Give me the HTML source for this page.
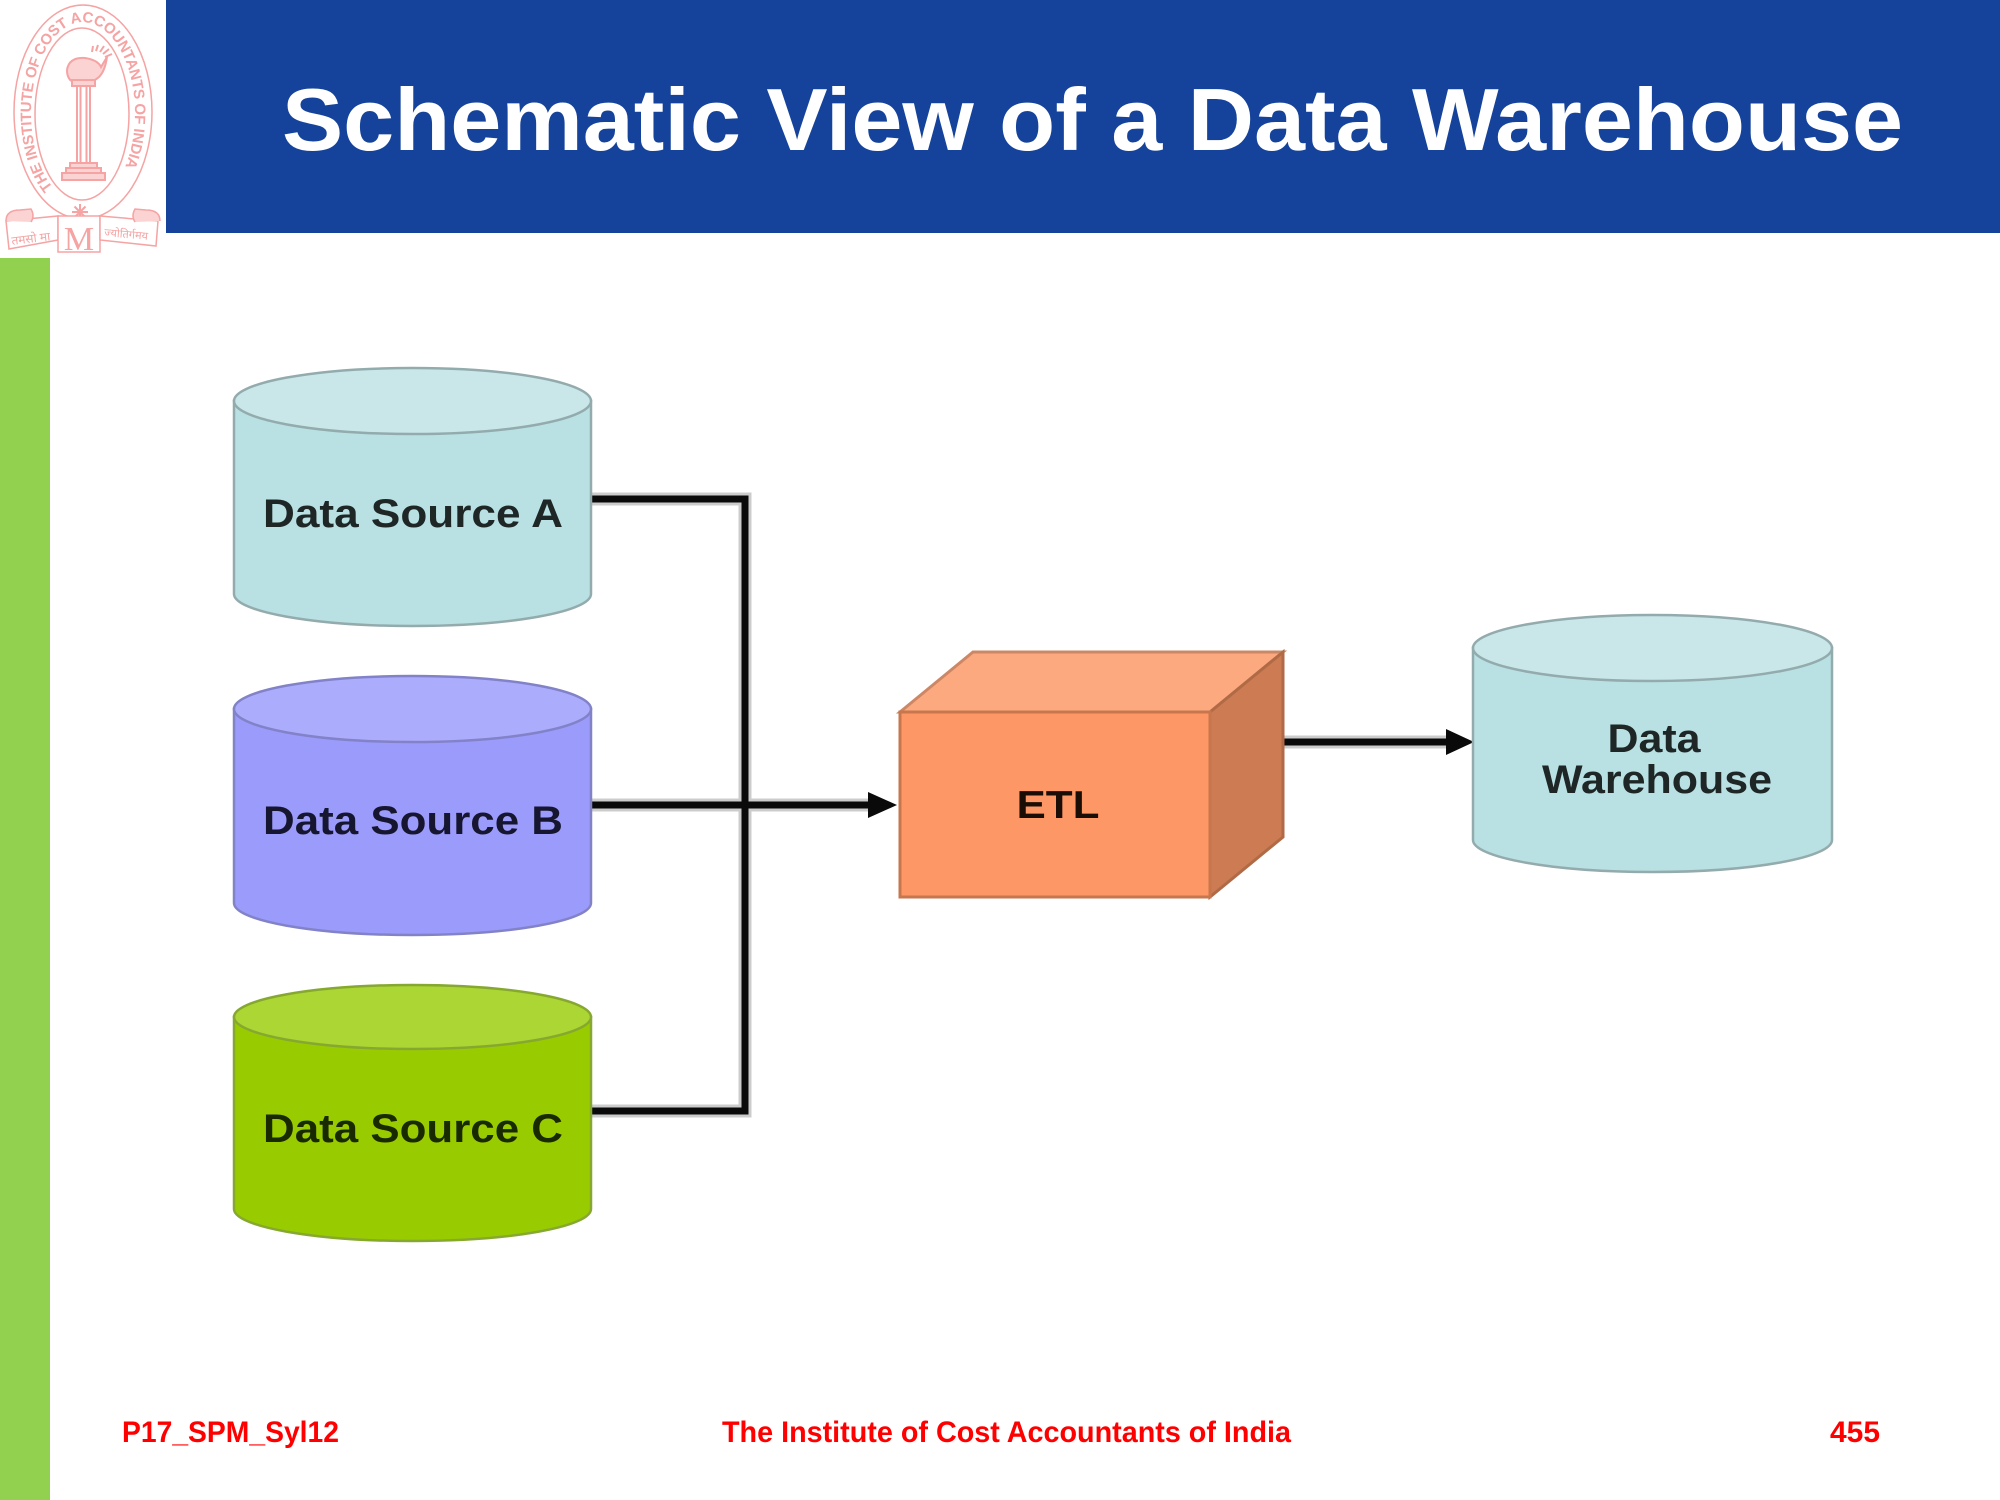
<!DOCTYPE html>
<html>
<head>
<meta charset="utf-8">
<style>
html,body{margin:0;padding:0;background:#fff;}
svg{display:block;}
</style>
</head>
<body>
<svg width="2000" height="1500" viewBox="0 0 2000 1500" xmlns="http://www.w3.org/2000/svg">
<rect width="2000" height="1500" fill="#ffffff"/>

<!-- Header -->
<rect x="166" y="0" width="1834" height="233" fill="#15439B"/>
<text x="282" y="150" font-family="'Liberation Sans', sans-serif" font-weight="bold" font-size="88" fill="#ffffff" textLength="1621" lengthAdjust="spacingAndGlyphs">Schematic View of a Data Warehouse</text>

<!-- Green side bar -->
<rect x="0" y="258" width="50" height="1242" fill="#92D050"/>

<!-- Logo -->
<defs>
  <path id="ring" d="M 53,187.5 A 52,91 0 1 1 113,187.5"/>
</defs>
<g fill="none" stroke="#F5A3A3" stroke-width="1.5">
  <ellipse cx="83" cy="112" rx="69" ry="107"/>
  <ellipse cx="82" cy="114" rx="47" ry="86"/>
</g>
<text font-family="'Liberation Sans', sans-serif" font-weight="bold" font-size="15" fill="#F5A3A3">
  <textPath href="#ring" textLength="362" lengthAdjust="spacing">THE INSTITUTE OF COST ACCOUNTANTS OF INDIA</textPath>
</text>
<g stroke="#F5A3A3" stroke-width="2" fill="none">
  <!-- lamp -->
  <path d="M67,70 Q69,57 85,58 Q98,60 101,67 L107,57 Q105,71 99,77 Q90,85 76,83 Q67,81 67,70 Z" fill="#FBD3D3"/>
  <path d="M96,51 L98,45 M100,52 L104,46 M103,54 L109,49 M105,57 L112,54 M92,52 L93,46"/>
  <!-- column -->
  <rect x="72" y="80" width="23" height="6" fill="#FBD3D3"/>
  <rect x="77" y="86" width="13" height="79"/>
  <line x1="80.5" y1="86" x2="80.5" y2="165"/>
  <line x1="86.5" y1="86" x2="86.5" y2="165"/>
  <!-- base -->
  <rect x="70" y="163" width="27" height="5" fill="#FBD3D3"/>
  <rect x="66" y="168" width="35" height="5" fill="#FBD3D3"/>
  <rect x="62" y="173" width="43" height="7" fill="#FBD3D3"/>
  <!-- star -->
  <path d="M80,204 L80,220 M72,212 L88,212 M74.5,206.5 L85.5,217.5 M85.5,206.5 L74.5,217.5"/>
</g>
<g stroke="#F5A3A3" stroke-width="1.5" fill="none">
  <!-- ribbon -->
  <path d="M6,221 L58,216 L58,240 L9,249 Z" fill="#ffffff"/>
  <path d="M6,221 Q6,210 20,210 L31,209 Q35,216 31,222" fill="#FBD3D3"/>
  <path d="M58,216 L100,216 L100,252 L58,252 Z" fill="#ffffff"/>
  <path d="M100,216 L158,221 L156,246 L100,240 Z" fill="#ffffff"/>
  <path d="M160,221 Q160,210 146,210 L135,209 Q131,216 135,222" fill="#FBD3D3"/>
</g>
<text x="12" y="245" font-family="'Liberation Sans', sans-serif" font-size="12" fill="#F5A3A3" transform="rotate(-7 12 245)">तमसो मा</text>
<text x="104" y="236" font-family="'Liberation Sans', sans-serif" font-size="11" fill="#F5A3A3" transform="rotate(5 104 236)">ज्योतिर्गमय</text>
<text x="79" y="250" text-anchor="middle" font-family="'Liberation Serif', serif" font-size="34" fill="#F5A3A3">M</text>

<!-- Connector shadows -->
<g fill="none" stroke="#cccccc" stroke-width="13" stroke-linejoin="miter">
  <path d="M591,499 H745 V1111 H591"/>
  <path d="M591,805 H870"/>
  <path d="M1284,742 H1450"/>
</g>
<!-- Connectors -->
<g fill="none" stroke="#0a0a0a" stroke-width="7" stroke-linejoin="miter">
  <path d="M591,499 H745 V1111 H591"/>
  <path d="M591,805 H872"/>
  <path d="M1284,742 H1452"/>
</g>
<polygon points="868,792 897,805 868,818" fill="#0a0a0a"/>
<polygon points="1446,729 1474,742 1446,755" fill="#0a0a0a"/>

<!-- Cylinder A -->
<g stroke="#93abad" stroke-width="2.5">
  <path d="M234,401 L234,594 A178.5,32 0 0 0 591,594 L591,401 Z" fill="#B9E0E3"/>
  <ellipse cx="412.5" cy="401" rx="178.5" ry="33" fill="#C9E7E9"/>
</g>
<text x="413" y="527" text-anchor="middle" font-family="'Liberation Sans', sans-serif" font-weight="bold" font-size="40" fill="#1e2626" textLength="300" lengthAdjust="spacingAndGlyphs">Data Source A</text>

<!-- Cylinder B -->
<g stroke="#8282c8" stroke-width="2.5">
  <path d="M234,709 L234,903 A178.5,32 0 0 0 591,903 L591,709 Z" fill="#9B9BFC"/>
  <ellipse cx="412.5" cy="709" rx="178.5" ry="33" fill="#ACACFD"/>
</g>
<text x="413" y="834" text-anchor="middle" font-family="'Liberation Sans', sans-serif" font-weight="bold" font-size="40" fill="#161630" textLength="300" lengthAdjust="spacingAndGlyphs">Data Source B</text>

<!-- Cylinder C -->
<g stroke="#86a830" stroke-width="2.5">
  <path d="M234,1017 L234,1209 A178.5,32 0 0 0 591,1209 L591,1017 Z" fill="#99CC00"/>
  <ellipse cx="412.5" cy="1017" rx="178.5" ry="32" fill="#ABD633"/>
</g>
<text x="413" y="1142" text-anchor="middle" font-family="'Liberation Sans', sans-serif" font-weight="bold" font-size="40" fill="#1a2a00" textLength="300" lengthAdjust="spacingAndGlyphs">Data Source C</text>

<!-- ETL box -->
<g stroke-linejoin="miter">
  <polygon points="900,712 973,652 1283,652 1210,712" fill="#FDA97F" stroke="#cc8866" stroke-width="3"/>
  <polygon points="1210,712 1283,652 1283,837 1210,897" fill="#CD7B53" stroke="#b06a46" stroke-width="3"/>
  <rect x="900" y="712" width="310" height="185" fill="#FD9866" stroke="#c7764e" stroke-width="3"/>
</g>
<text x="1058" y="818" text-anchor="middle" font-family="'Liberation Sans', sans-serif" font-weight="bold" font-size="39" fill="#1a0d05" textLength="83" lengthAdjust="spacingAndGlyphs">ETL</text>

<!-- Data Warehouse -->
<g stroke="#93abad" stroke-width="2.5">
  <path d="M1473,648 L1473,840 A179.5,32 0 0 0 1832,840 L1832,648 Z" fill="#B9E0E3"/>
  <ellipse cx="1652.5" cy="648" rx="179.5" ry="33" fill="#C9E7E9"/>
</g>
<text x="1654" y="752" text-anchor="middle" font-family="'Liberation Sans', sans-serif" font-weight="bold" font-size="40" fill="#1e2626" textLength="93" lengthAdjust="spacingAndGlyphs">Data</text>
<text x="1657" y="793" text-anchor="middle" font-family="'Liberation Sans', sans-serif" font-weight="bold" font-size="40" fill="#1e2626" textLength="230" lengthAdjust="spacingAndGlyphs">Warehouse</text>

<!-- Footer -->
<text x="122" y="1442" font-family="'Liberation Sans', sans-serif" font-weight="bold" font-size="30" fill="#FF0000" textLength="217" lengthAdjust="spacingAndGlyphs">P17_SPM_Syl12</text>
<text x="722" y="1442" font-family="'Liberation Sans', sans-serif" font-weight="bold" font-size="30" fill="#FF0000" textLength="569" lengthAdjust="spacingAndGlyphs">The Institute of Cost Accountants of India</text>
<text x="1830" y="1442" font-family="'Liberation Sans', sans-serif" font-weight="bold" font-size="30" fill="#FF0000" textLength="50" lengthAdjust="spacingAndGlyphs">455</text>
</svg>
</body>
</html>
